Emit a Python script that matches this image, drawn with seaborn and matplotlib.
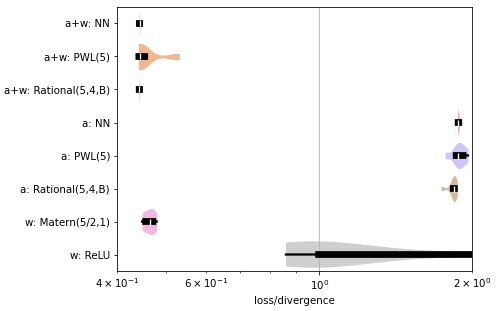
import matplotlib
matplotlib.use("Agg")
import matplotlib.pyplot as plt
import pandas as pd
import seaborn as sns

categories = ["a+w: NN", "a+w: PWL(5)", "a+w: Rational(5,4,B)", "a: NN",
              "a: PWL(5)", "a: Rational(5,4,B)", "w: Matern(5/2,1)", "w: ReLU"]

aw_nn = [0.4420, 0.4423, 0.4425, 0.4427, 0.4428, 0.4429, 0.4429, 0.4430,
         0.4431, 0.4433, 0.4435, 0.4438]
aw_pwl = [0.4405, 0.4407, 0.4410, 0.4413, 0.4417, 0.4422, 0.4428, 0.4435,
          0.4445, 0.4460, 0.4480, 0.4520, 0.4580, 0.5180, 0.5250, 0.5305]
aw_rational = [0.4417, 0.4420, 0.4422, 0.4424, 0.4425, 0.4426, 0.4426, 0.4427,
               0.4428, 0.4430, 0.4432, 0.4435]
a_nn = [1.872, 1.875, 1.877, 1.878, 1.879, 1.879, 1.880, 1.881, 1.882, 1.884,
        1.888, 1.900]
a_pwl = [1.769, 1.775, 1.852, 1.858, 1.864, 1.869, 1.874, 1.880, 1.890, 1.902,
         1.913, 1.926, 1.940, 1.952, 1.963]
a_rational = [1.737, 1.742, 1.832, 1.836, 1.838, 1.840, 1.841, 1.842, 1.843,
              1.844, 1.846, 1.850, 1.858, 1.870]
w_matern = [0.4480, 0.4490, 0.4505, 0.4555, 0.4585, 0.4615, 0.4645, 0.4670,
            0.4695, 0.4705, 0.4745, 0.4770, 0.4790]
w_relu = [0.86, 0.89, 0.94, 0.99, 1.0, 1.02, 1.08, 1.6, 2.7, 4.0, 6.5, 11.0,
          20.0, 40.0, 80.0, 160.0]

series = [aw_nn, aw_pwl, aw_rational, a_nn, a_pwl, a_rational, w_matern, w_relu]
bw_adjust = [1, 1, 1, 1, 1, 1, 1, 0.25]

df = pd.DataFrame({
    "model": [c for c, vals in zip(categories, series) for _ in vals],
    "value": [v for vals in series for v in vals],
})

colors = sns.color_palette("pastel", len(categories))

plt.rcParams["font.size"] = 10.3
fig, ax = plt.subplots(figsize=(498 / 72, 311 / 72), dpi=72)
fig.subplots_adjust(left=0.235, right=0.948, top=0.9775, bottom=0.1286)
ax.set_xscale("log")

for cat, col, bw in zip(categories, colors, bw_adjust):
    sub = df[df["model"] == cat]
    sns.violinplot(data=sub, x="value", y="model", order=categories,
                   color=col, orient="h", density_norm="width", cut=0,
                   inner="box", linewidth=0, bw_adjust=bw, linecolor="black",
                   inner_kws=dict(box_width=6.75, whis_width=2.25,
                                  solid_capstyle="projecting", snap=False),
                   ax=ax)

ax.set_xlim(0.4, 2.0)
ax.set_ylim(len(categories) - 0.5, -0.5)
ax.xaxis.grid(True)
ax.set_xlabel("loss/divergence")
ax.set_ylabel("")

fig.savefig("out.png", dpi=72)
